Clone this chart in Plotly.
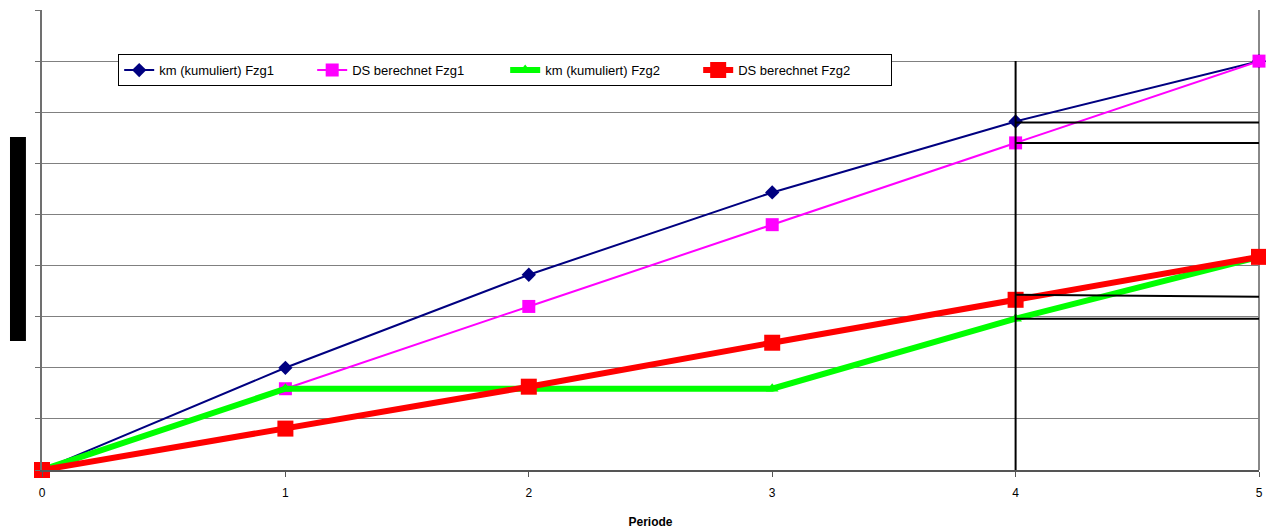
import plotly.graph_objects as go

periode = [0, 1, 2, 3, 4, 5]
km_fzg1 = [0, 2.0, 3.82, 5.43, 6.82, 8.0]
ds_fzg1 = [0, 1.59, 3.2, 4.8, 6.4, 8.0]
km_fzg2 = [0, 1.59, 1.59, 1.59, 2.96, 4.17]
ds_fzg2 = [0, 0.81, 1.63, 2.49, 3.33, 4.17]

names = ["km (kumuliert) Fzg1", "DS berechnet Fzg1", "km (kumuliert) Fzg2", "DS berechnet Fzg2"]
ref_start = [6.80, 6.40, 3.43, 2.96]
ref_end = [6.80, 6.40, 3.39, 2.96]
vline_x = 4
vline_top = 8.0

FONT = "Liberation Sans Narrow, Arial Narrow, Liberation Sans, Arial, sans-serif"

fig = go.Figure()
fig.add_trace(go.Scatter(x=periode, y=km_fzg1, name=names[0], mode="lines+markers",
                         line=dict(color="#000080", width=2),
                         marker=dict(symbol="diamond", size=11, color="#000080"), cliponaxis=False))
fig.add_trace(go.Scatter(x=periode, y=ds_fzg1, name=names[1], mode="lines+markers",
                         line=dict(color="#FF00FF", width=2),
                         marker=dict(symbol="square", size=13, color="#FF00FF"), cliponaxis=False))
fig.add_trace(go.Scatter(x=periode, y=km_fzg2, name=names[2], mode="lines+markers",
                         line=dict(color="#00FF00", width=6),
                         marker=dict(symbol="triangle-up", size=11, color="#00FF00"), cliponaxis=False))
fig.add_trace(go.Scatter(x=periode, y=ds_fzg2, name=names[3], mode="lines+markers",
                         line=dict(color="#FF0000", width=6),
                         marker=dict(symbol="square", size=16, color="#FF0000"), cliponaxis=False))

shapes = [dict(type="line", xref="x", yref="y", x0=vline_x, x1=vline_x, y0=0, y1=vline_top,
               line=dict(color="black", width=2))]
for a, b in zip(ref_start, ref_end):
    shapes.append(dict(type="line", xref="x", yref="y", x0=vline_x, x1=5.008, y0=a, y1=b,
                       line=dict(color="black", width=2)))
# right border of plot area
shapes.append(dict(type="line", xref="paper", yref="paper", x0=1, x1=1, y0=0, y1=1,
                   line=dict(color="#888888", width=2), layer="below"))
# blacked-out y-axis title
shapes.append(dict(type="rect", xref="paper", yref="paper", x0=-0.0263, x1=-0.0132,
                   y0=0.2804, y1=0.7239, fillcolor="black", line=dict(width=0)))

fig.update_layout(
    width=1266, height=529,
    margin=dict(l=42, r=7, t=10, b=59, autoexpand=False),
    paper_bgcolor="white", plot_bgcolor="white",
    font=dict(family=FONT, size=12, color="black"),
    shapes=shapes,
    showlegend=True,
    legend=dict(orientation="h", x=0.0626, y=0.904, xanchor="left", yanchor="top",
                bordercolor="black", borderwidth=1, bgcolor="white",
                font=dict(family=FONT, size=13, color="black"),
                entrywidth=148, entrywidthmode="pixels"),
    xaxis=dict(range=[0, 5], tickvals=periode, ticktext=[str(p) for p in periode],
               automargin=False,
               showgrid=False, zeroline=False, showline=True, linecolor="#555555", linewidth=2,
               ticks="outside", ticklen=5, tickcolor="#555555", ticklabelstandoff=6,
               tickfont=dict(family=FONT, size=12),
               title=dict(text="<b>Periode</b>", font=dict(family=FONT, size=12), standoff=19)),
    yaxis=dict(range=[0, 9], dtick=1, showticklabels=False, showgrid=True, automargin=False,
               gridcolor="#808080", gridwidth=1, zeroline=False,
               showline=True, linecolor="#707070", linewidth=2,
               ticks="outside", ticklen=5, tickcolor="#707070"),
)

fig.write_html("out.html")
